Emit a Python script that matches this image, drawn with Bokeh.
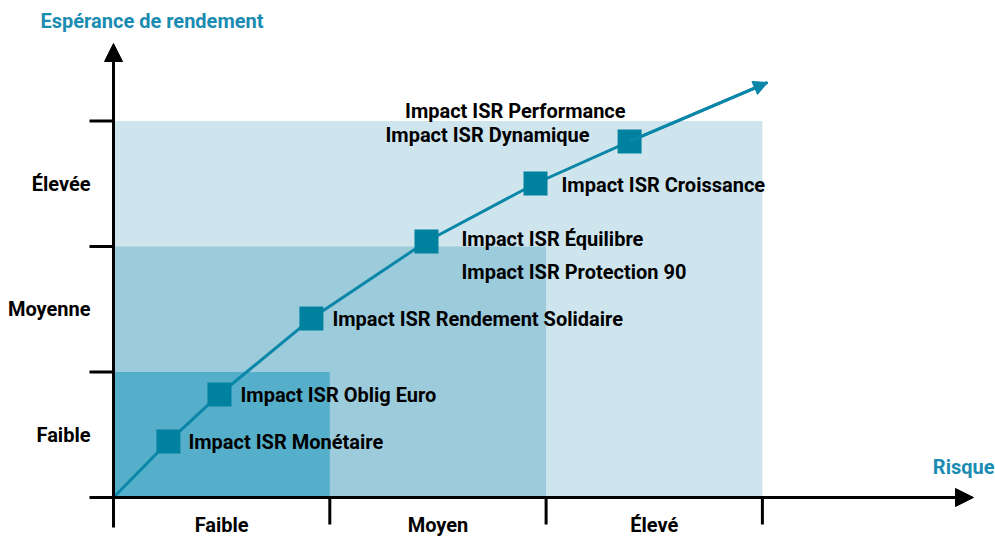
from bokeh.plotting import figure
from bokeh.models import Range1d, Arrow, NormalHead, ColumnDataSource
from bokeh.core.properties import value
from bokeh.embed import file_html
from bokeh.resources import INLINE

# ---------------- data ----------------
risk_levels = ["Faible", "Moyen", "Élevé"]
return_levels = ["Faible", "Moyenne", "Élevée"]
level_index = [0, 1, 2]

fund_risk = [0.254, 0.490, 0.915, 1.447, 1.951, 2.386]
fund_return = [0.446, 0.821, 1.426, 2.040, 2.502, 2.837]

curve_end_risk = 3.024
curve_end_return = 3.307

label_texts = [
    "Impact ISR Monétaire",
    "Impact ISR Oblig Euro",
    "Impact ISR Rendement Solidaire",
    "Impact ISR Équilibre",
    "Impact ISR Protection 90",
    "Impact ISR Croissance",
    "Impact ISR Dynamique",
    "Impact ISR Performance",
]
label_fund = [0, 1, 2, 3, 3, 4, 5, 5]

# ---------------- layout / style ----------------
W, H = 995, 536
PXU_X, PXU_Y = 216.3, 125.5      # pixels per unit
ORIG_X, ORIG_Y = 113, 497         # origin in frame pixels (from left, from top)

FONT = value("Roboto")
FS = "20px"
TEAL = "#0a86a8"
MARK = "#00819f"
TITLE = "#1a8cb2"
C_LIGHT, C_MED, C_DARK = "#cfe5ee", "#9ccbdc", "#56afca"

p = figure(width=W, height=H, output_backend="svg", toolbar_location=None,
           min_border=0, outline_line_color=None,
           x_range=Range1d(-ORIG_X / PXU_X, (W - ORIG_X) / PXU_X),
           y_range=Range1d(-(H - ORIG_Y) / PXU_Y, ORIG_Y / PXU_Y))
p.axis.visible = False
p.grid.visible = False

# shaded zones (nested)
for k, col in zip(reversed(level_index), [C_LIGHT, C_MED, C_DARK]):
    p.quad(left=0, right=k + 1, bottom=0, top=k + 1, fill_color=col, line_color=None)

# ticks
tick_len_x = 24 / PXU_X
tick_len_y = 27 / PXU_Y
ticks = [i + 1 for i in level_index]
p.segment(x0=ticks, y0=[0] * 3, x1=ticks, y1=[-tick_len_y] * 3, line_color="black", line_width=3)
p.segment(x0=[-tick_len_x] * 3, y0=ticks, x1=[0] * 3, y1=ticks, line_color="black", line_width=3)

# axes with arrows
p.add_layout(Arrow(x_start=0, y_start=-tick_len_y - 3 / PXU_Y, x_end=0, y_end=(497 - 43) / PXU_Y,
                   line_width=3, line_color="black",
                   end=NormalHead(size=18, fill_color="black", line_color="black", line_width=1)))
p.add_layout(Arrow(x_start=-tick_len_x, y_start=0, x_end=(973 - 113) / PXU_X, y_end=0,
                   line_width=3, line_color="black",
                   end=NormalHead(size=18, fill_color="black", line_color="black", line_width=1)))

# curve
cx = [0] + fund_risk + [curve_end_risk]
cy = [0] + fund_return + [curve_end_return]
p.line(cx, cy, line_color=TEAL, line_width=3)
p.add_layout(Arrow(x_start=fund_risk[-1], y_start=fund_return[-1], x_end=curve_end_risk, y_end=curve_end_return,
                   line_width=3, line_color=TEAL,
                   end=NormalHead(size=14, fill_color=TEAL, line_color=TEAL, line_width=1)))

p.scatter(fund_risk, fund_return, marker="square", size=24, fill_color=MARK, line_color=None)

# fund labels
dx = [20, 21, 21, 35, 35, 26, -40, -4]
dy = [0, 1, 0, -2, 31, 2, -6, -30]
align = ["left"] * 6 + ["right"] * 2
src = ColumnDataSource(dict(
    x=[fund_risk[i] for i in label_fund],
    y=[fund_return[i] for i in label_fund],
    t=label_texts, dx=dx, dy=dy, al=align))
p.text(x="x", y="y", text="t", x_offset="dx", y_offset="dy", text_align="al",
       source=src, text_baseline="middle", text_font=FONT, text_font_style="bold",
       text_font_size=FS, text_color="black")

# category labels
mids = [i + 0.5 for i in level_index]
p.text(x=mids, y=[0] * 3, text=risk_levels, y_offset=27, text_align="center",
       text_baseline="middle", text_font=FONT, text_font_style="bold",
       text_font_size=FS, text_color="black")
p.text(x=[0] * 3, y=mids, text=return_levels, x_offset=-23, text_align="right",
       text_baseline="middle", text_font=FONT, text_font_style="bold",
       text_font_size=FS, text_color="black")

# axis titles
p.text(x=[-73 / PXU_X], y=[(497 - 20) / PXU_Y], text=["Espérance de rendement"],
       text_align="left", text_baseline="middle", text_font=FONT, text_font_style="bold",
       text_font_size=FS, text_color=TITLE)
p.text(x=[(994 - 113) / PXU_X], y=[(497 - 466) / PXU_Y], text=["Risque"],
       text_align="right", text_baseline="middle", text_font=FONT, text_font_style="bold",
       text_font_size=FS, text_color=TITLE)

open("out.html", "w").write(file_html(p, INLINE))
